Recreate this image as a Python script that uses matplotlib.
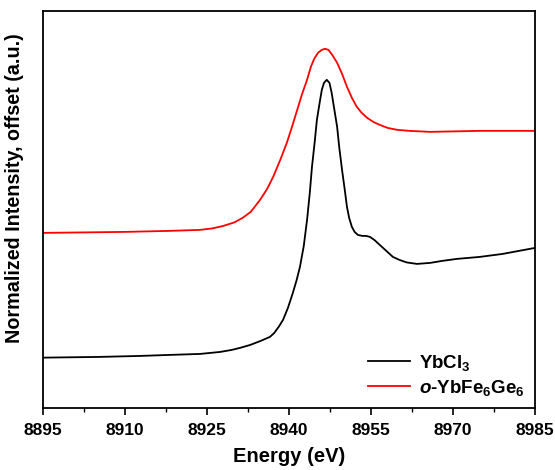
import numpy as np
import matplotlib
matplotlib.use("Agg")
import matplotlib.pyplot as plt
from matplotlib.ticker import MultipleLocator

plt.rcParams['font.family'] = 'Liberation Sans'
plt.rcParams['font.weight'] = 'bold'
plt.rcParams['mathtext.fontset'] = 'custom'
plt.rcParams['mathtext.rm'] = 'Liberation Sans:bold'
plt.rcParams['mathtext.bf'] = 'Liberation Sans:bold'
plt.rcParams['mathtext.it'] = 'Liberation Sans:style=italic:weight=bold'

# YbCl3
e_ybcl3 = [8895.0, 8905.0, 8912.7, 8918.0, 8923.7, 8927.4, 8929.5, 8931.0, 8932.9, 8934.8,
           8936.5, 8937.3, 8938.1, 8938.9, 8939.8, 8940.7, 8941.4, 8942.0, 8942.7, 8943.3,
           8943.8, 8944.2, 8944.7, 8945.1, 8945.6, 8946.0, 8946.4, 8946.9, 8947.4, 8947.8,
           8948.3, 8948.8, 8949.2, 8949.7, 8950.2, 8950.6, 8951.0, 8951.5, 8952.0, 8952.6,
           8953.4, 8954.1, 8954.8, 8955.6, 8956.6, 8957.8, 8959.0, 8960.2, 8961.5, 8963.4,
           8965.8, 8968.0, 8970.7, 8974.9, 8979.1, 8985.0]
i_ybcl3 = [50.3, 51.0, 52.0, 53.0, 54.0, 56.0, 58.0, 60.0, 63.0, 67.0,
           71.0, 75.0, 81.0, 88.0, 100.0, 115.0, 128.0, 141.0, 162.0, 188.0,
           215.0, 241.0, 266.0, 288.0, 305.0, 318.0, 325.0, 328.0, 325.0, 315.0,
           298.0, 281.0, 260.0, 238.0, 218.0, 201.0, 190.0, 181.0, 176.0, 173.0,
           172.0, 172.0, 171.0, 168.0, 163.0, 157.0, 151.0, 148.0, 145.5, 144.0,
           145.0, 147.0, 149.0, 151.0, 154.0, 160.0]

# o-YbFe6Ge6
e_ybfege = [8895.0, 8910.0, 8918.0, 8923.7, 8926.0, 8928.0, 8930.0, 8931.5, 8933.0, 8934.7,
            8936.0, 8937.1, 8938.4, 8939.6, 8940.6, 8941.5, 8942.4, 8943.3, 8944.0, 8944.6,
            8945.3, 8946.0, 8946.6, 8947.2, 8947.9, 8948.8, 8949.7, 8950.6, 8951.5, 8952.4,
            8953.3, 8954.3, 8955.4, 8956.6, 8958.0, 8959.8, 8962.0, 8965.8, 8975.0, 8985.0]
i_ybfege = [175.0, 176.0, 177.0, 178.0, 179.5, 182.0, 185.5, 190.0, 196.0, 208.0,
            219.0, 231.0, 248.0, 265.0, 282.0, 298.0, 314.0, 328.0, 341.0, 349.0,
            355.0, 358.0, 359.0, 358.0, 353.0, 345.0, 334.0, 321.0, 310.0, 301.0,
            295.0, 290.0, 286.0, 283.0, 280.0, 278.0, 277.0, 276.0, 277.0, 277.0]

fig = plt.figure(figsize=(5.55, 4.7), dpi=100)
ax = fig.add_axes([0.0775, 0.132, 0.8865, 0.845])

ax.plot(e_ybcl3, i_ybcl3, color='black', lw=1.3, label=r'YbCl$_{3}$')
ax.plot(e_ybfege, i_ybfege, color='red', lw=1.3,
        label=r'$\mathit{o}$-YbFe$_{6}$Ge$_{6}$')

ax.set_xlim(8895, 8985)
ax.set_ylim(0, 397)
ax.xaxis.set_major_locator(MultipleLocator(15))
ax.xaxis.set_minor_locator(MultipleLocator(7.5))
ax.tick_params(axis='x', which='major', direction='out', length=5, width=1.2,
               labelsize=12.5, pad=6)
ax.tick_params(axis='x', which='minor', direction='out', length=3, width=1.0)
ax.set_yticks([])
for s in ax.spines.values():
    s.set_linewidth(1.3)

ax.set_xlabel('Energy (eV)', fontsize=14.5, fontweight='bold', labelpad=6)
ax.set_ylabel('Normalized Intensity, offset (a.u.)', fontsize=14.2, fontweight='bold')
ax.yaxis.set_label_coords(-0.038, 0.554)

ax.legend(loc='lower right', frameon=False, fontsize=13.5, handlelength=2.2,
          handletextpad=0.5, borderaxespad=0.15, labelspacing=0.25)

fig.savefig('out.png', dpi=100)
